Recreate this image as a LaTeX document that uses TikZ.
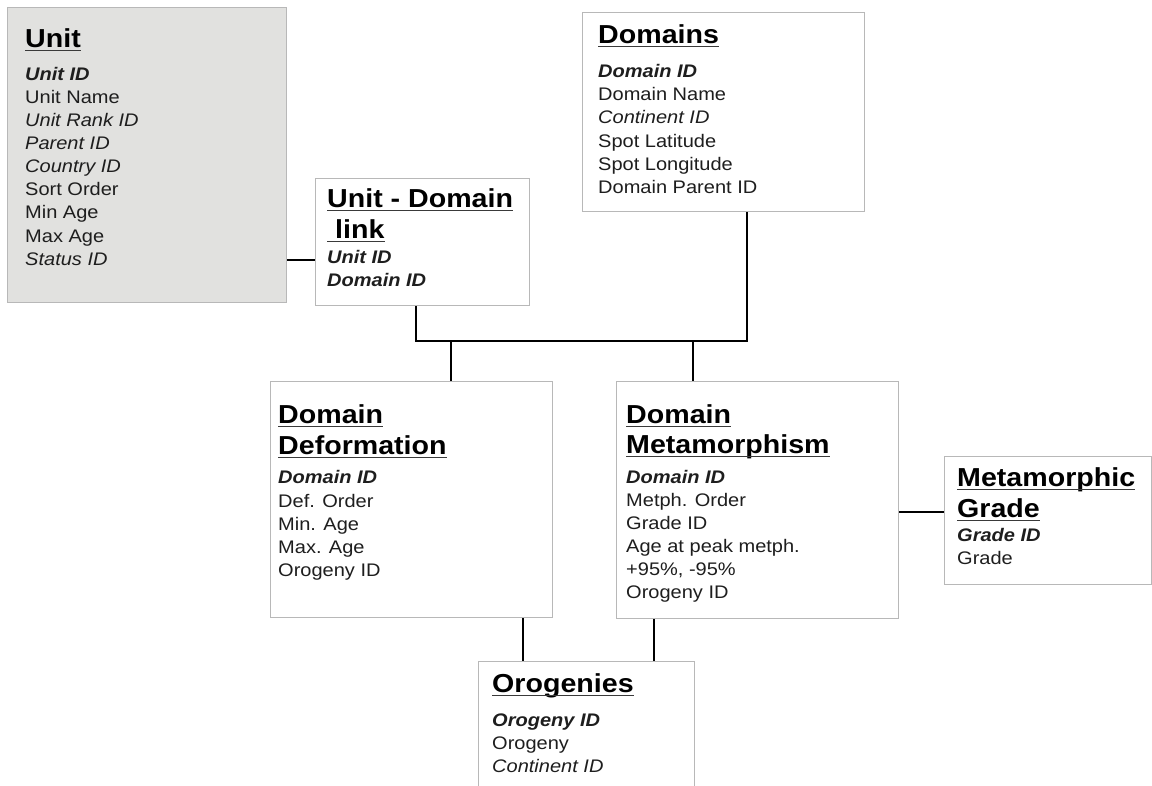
\documentclass[tikz,border=0pt]{standalone}
\usepackage{fontspec}
\setmainfont[FakeStretch=1.1]{Liberation Sans}
\definecolor{boxline}{HTML}{B8B8B8}
\definecolor{unitfill}{HTML}{E1E1DF}
\definecolor{txt}{HTML}{1E1E1E}
\definecolor{ulc}{HTML}{3A3A3A}
\tikzset{
  tbl/.style={draw=boxline, line width=1.4pt, fill=white, anchor=north west, inner sep=0pt},
  ttl/.style={inner sep=0pt, anchor=base west, text=black, font=\fontsize{26}{30}\selectfont\bfseries},
  fld/.style={inner sep=0pt, anchor=base west, text=txt, font=\fontsize{18.2}{23}\selectfont},
  ul/.style={draw=ulc, line width=1.8pt},
  link/.style={draw=black, line width=2.6pt}
}
\newcommand\ttl[4]{\node[ttl] (#1) at (#2,#3) {#4};
  \draw[ul] ([yshift=-3.5pt]#1.base west) -- ([yshift=-3.5pt]#1.base east);}
\newcommand\fld[4]{\node[fld] (#1) at (#2,#3) {#4};}
\newcommand\pk[1]{\textbf{\textit{#1}}}
\begin{document}
\begin{tikzpicture}[x=1pt,y=-1pt]
\clip (0,0) rectangle (1152,785);
\fill[white] (0,0) rectangle (1152,785);
% boxes
\node[tbl, fill=unitfill, minimum width=279pt, minimum height=295pt] (unit) at (7,7) {};
\node[tbl, minimum width=282pt, minimum height=199pt] (domains) at (582,12) {};
\node[tbl, minimum width=214pt, minimum height=127pt] (udlink) at (315,178) {};
\node[tbl, minimum width=282pt, minimum height=236pt] (deform) at (270,381) {};
\node[tbl, minimum width=282pt, minimum height=237pt] (metam) at (616,381) {};
\node[tbl, minimum width=207pt, minimum height=128pt] (grade) at (944,456) {};
\node[tbl, minimum width=216pt, minimum height=140pt] (orog) at (478,661) {};
% junction coordinates
\coordinate (j1) at (300,260);
\coordinate (busL) at (416,341);
\coordinate (busR) at (747,341);
\coordinate (t1) at (451,341);
\coordinate (t2) at (693,341);
\coordinate (g1) at (920,512);
\coordinate (o1) at (523,640);
\coordinate (o2) at (654,640);
% connectors
\draw[link] (unit.east |- j1) -- (udlink.west |- j1);
\draw[link] (udlink.south -| busL) -- (busL) -- (busR) -- (domains.south -| busR);
\draw[link] (t1) -- (deform.north -| t1);
\draw[link] (t2) -- (metam.north -| t2);
\draw[link] (metam.east |- g1) -- (grade.west |- g1);
\draw[link] (deform.south -| o1) -- (orog.north -| o1);
\draw[link] (metam.south -| o2) -- (orog.north -| o2);
% Unit
\ttl{unitT}{25}{47}{Unit}
\fld{u1}{25}{80}{\pk{Unit ID}}
\fld{u2}{25}{103}{Unit Name}
\fld{u3}{25}{126}{\textit{Unit Rank ID}}
\fld{u4}{25}{149}{\textit{Parent ID}}
\fld{u5}{25}{172}{\textit{Country ID}}
\fld{u6}{25}{195}{Sort Order}
\fld{u7}{25}{218}{Min Age}
\fld{u8}{25}{242}{Max Age}
\fld{u9}{25}{265}{\textit{Status ID}}
% Domains
\ttl{domT}{598}{43}{Domains}
\fld{d1}{598}{77}{\pk{Domain ID}}
\fld{d2}{598}{100}{Domain Name}
\fld{d3}{598}{123}{\textit{Continent ID}}
\fld{d4}{598}{147}{Spot Latitude}
\fld{d5}{598}{170}{Spot Longitude}
\fld{d6}{598}{193}{Domain Parent ID}
% Unit - Domain link
\ttl{lnkT1}{327}{207}{Unit - Domain}
\ttl{lnkT2}{327}{238}{\ link}
\fld{l1}{327}{263}{\pk{Unit ID}}
\fld{l2}{327}{286}{\pk{Domain ID}}
% Domain Deformation
\ttl{defT1}{278}{423}{Domain}
\ttl{defT2}{278}{454}{Deformation}
\fld{df1}{278}{483}{\pk{Domain ID}}
\fld{df2}{278}{507}{Def. Order}
\fld{df3}{278}{530}{Min. Age}
\fld{df4}{278}{553}{Max. Age}
\fld{df5}{278}{576}{Orogeny ID}
% Domain Metamorphism
\ttl{metT1}{626}{423}{Domain}
\ttl{metT2}{626}{453}{Metamorphism}
\fld{m1}{626}{483}{\pk{Domain ID}}
\fld{m2}{626}{506}{Metph. Order}
\fld{m3}{626}{529}{Grade ID}
\fld{m4}{626}{552}{Age at peak metph.}
\fld{m5}{626}{575}{+95\%, -95\%}
\fld{m6}{626}{598}{Orogeny ID}
% Metamorphic Grade
\ttl{grT1}{957}{486}{Metamorphic}
\ttl{grT2}{957}{517}{Grade}
\fld{g1f}{957}{541}{\pk{Grade ID}}
\fld{g2f}{957}{564}{Grade}
% Orogenies
\ttl{orT}{492}{692}{Orogenies}
\fld{o1f}{492}{726}{\pk{Orogeny ID}}
\fld{o2f}{492}{749}{Orogeny}
\fld{o3f}{492}{772}{\textit{Continent ID}}
\end{tikzpicture}
\end{document}
